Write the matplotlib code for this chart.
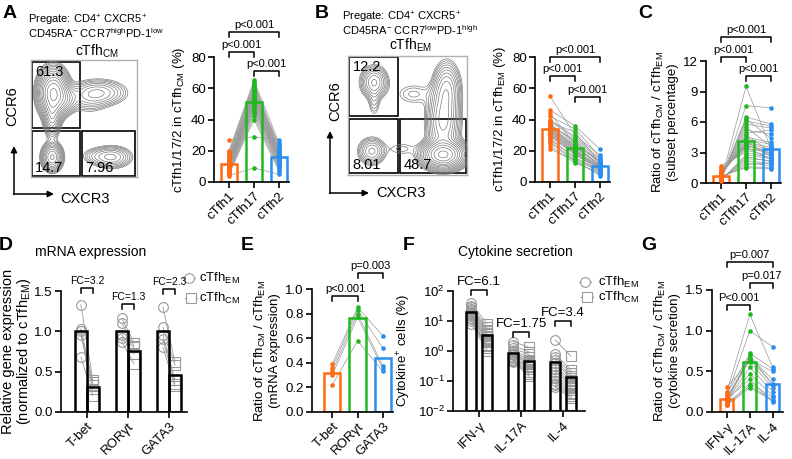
import numpy as np
import matplotlib
matplotlib.use('Agg')
import matplotlib.pyplot as plt
from matplotlib.patches import Rectangle

plt.rcParams['font.family'] = ['Liberation Sans', 'DejaVu Sans']
plt.rcParams['mathtext.fontset'] = 'custom'
plt.rcParams['mathtext.rm'] = 'Liberation Sans'
plt.rcParams['mathtext.default'] = 'regular'

# ---------------- data ----------------
subsets = ['cTfh1', 'cTfh17', 'cTfh2']
genes = ['T-bet', 'RORγt', 'GATA3']
cytokines = ['IFN-γ', 'IL-17A', 'IL-4']

# A: subset percentage in cTfh_CM (one value per donor)
cm_tfh1 = [20, 19, 18, 17, 16, 15, 15, 14, 14, 13, 13, 12, 12, 11, 11, 10, 10, 10, 9, 9, 8, 8, 7, 7, 6, 6, 5, 5, 27, 4]
cm_tfh17 = [65, 64, 63, 62, 61, 60, 59, 58, 57, 57, 56, 55, 55, 54, 53, 53, 52, 51, 50, 50, 49, 48, 47, 46, 45, 44, 42, 40, 29, 9]
cm_tfh2 = [25, 18, 23, 16, 21, 20, 14, 19, 24, 13, 17, 22, 16, 15, 20, 12, 14, 18, 13, 10, 12, 17, 11, 15, 10, 9, 8, 7, 27, 5]

# B: subset percentage in cTfh_EM
em_tfh1 = [55, 46, 44, 42, 40, 39, 38, 37, 37, 36, 36, 35, 35, 34, 34, 33, 33, 32, 32, 31, 31, 30, 30, 29, 28, 27, 26, 25, 23, 21]
em_tfh17 = [30, 36, 24, 34, 29, 28, 32, 26, 25, 23, 27, 24, 22, 23, 21, 22, 20, 21, 19, 20, 18, 19, 17, 18, 15, 16, 14, 13, 12, 14]
em_tfh2 = [17, 21, 13, 16, 15, 14, 12, 13, 12, 11, 12, 10, 11, 10, 9, 11, 10, 9, 10, 8, 9, 8, 9, 7, 8, 6, 7, 5, 6, 4]

# C: ratio CM / EM of subset percentage
ratio_tfh1 = [0.2, 0.25, 0.3, 0.35, 0.4, 0.45, 0.5, 0.55, 0.6, 0.65, 0.7, 0.75, 0.8, 0.85, 0.9, 0.95, 1.0, 1.1, 1.2, 1.3, 1.5, 1.7, 0.25, 0.3, 0.35, 0.4, 0.45, 0.5, 0.6, 0.7]
ratio_tfh17 = [9.5, 7.6, 6.5, 6.3, 6.1, 5.8, 5.5, 5.2, 4.9, 4.7, 4.5, 4.3, 4.1, 4.0, 3.9, 3.8, 3.7, 3.6, 3.5, 3.4, 3.2, 3.0, 2.8, 2.6, 2.4, 2.2, 2.0, 1.8, 1.6, 1.5]
ratio_tfh2 = [3.4, 7.4, 5.8, 4.4, 5.6, 5.4, 3.6, 4.8, 5.2, 3.1, 4.0, 3.8, 2.6, 3.5, 3.3, 2.9, 2.8, 3.2, 2.3, 3.0, 2.7, 2.5, 2.4, 2.1, 2.2, 1.9, 1.7, 2.0, 1.5, 1.4]

# D: relative mRNA expression (normalized to cTfh_EM)
mrna_em = {'T-bet': [1.33, 1.03, 1.00, 0.95, 0.68],
           'RORγt': [1.16, 1.10, 0.95, 0.92, 0.87],
           'GATA3': [1.30, 1.05, 0.95, 0.90, 0.80]}
mrna_cm = {'T-bet': [0.40, 0.37, 0.33, 0.28, 0.20],
           'RORγt': [0.86, 0.82, 0.80, 0.72, 0.60],
           'GATA3': [0.62, 0.58, 0.40, 0.35, 0.32]}
mrna_fc = ['FC=3.2', 'FC=1.3', 'FC=2.3']

# E: ratio CM / EM of mRNA expression
mrna_ratio_tbet = [0.39, 0.36, 0.33, 0.30, 0.22]
mrna_ratio_rorgt = [0.85, 0.83, 0.80, 0.77, 0.58]
mrna_ratio_gata3 = [0.62, 0.52, 0.37, 0.35, 0.33]

# F: cytokine+ cells (%)
cyto_em = {'IFN-γ': [38, 32, 28, 25, 22, 20, 18, 17, 15, 14, 12, 11, 10, 8],
           'IL-17A': [2.0, 1.5, 1.2, 1.0, 0.9, 0.8, 0.75, 0.7, 0.6, 0.55, 0.5, 0.48, 0.45, 0.43],
           'IL-4': [2.3, 0.8, 0.6, 0.5, 0.4, 0.3, 0.25, 0.2, 0.15, 0.12, 0.1, 0.08, 0.07, 0.06]}
cyto_cm = {'IFN-γ': [8, 6, 5, 4.5, 4, 3.5, 3, 2.5, 2.2, 2, 1.6, 1.4, 1.2, 1.0],
           'IL-17A': [1.3, 0.9, 0.75, 0.6, 0.5, 0.45, 0.4, 0.35, 0.3, 0.28, 0.25, 0.2, 0.17, 0.14],
           'IL-4': [0.65, 0.22, 0.18, 0.14, 0.12, 0.1, 0.08, 0.07, 0.06, 0.05, 0.04, 0.035, 0.03, 0.026]}
cyto_fc = ['FC=6.1', 'FC=1.75', 'FC=3.4']

# G: ratio CM / EM of cytokine secretion
cyto_ratio_ifng = [0.31, 0.25, 0.22, 0.20, 0.18, 0.17, 0.16, 0.15, 0.14, 0.13, 0.12, 0.10, 0.09, 0.08]
cyto_ratio_il17a = [0.62, 1.2, 0.72, 1.0, 0.67, 0.65, 0.4, 0.64, 0.55, 0.47, 0.70, 0.35, 0.32, 0.30]
cyto_ratio_il4 = [0.30, 0.55, 0.53, 0.8, 0.40, 0.35, 0.12, 0.50, 0.25, 0.20, 0.33, 0.18, 0.15, 0.14]

# flow cytometry density components (axes fraction: x = CXCR3, y = CCR6)
cm_cx = [0.21, 0.20, 0.20, 0.64, 0.76, 0.55, 0.32, 0.60]
cm_cy = [0.72, 0.52, 0.17, 0.72, 0.17, 0.66, 0.66, 0.18]
cm_sx = [0.07, 0.04, 0.05, 0.14, 0.10, 0.10, 0.07, 0.08]
cm_sy = [0.10, 0.09, 0.06, 0.06, 0.05, 0.07, 0.06, 0.04]
cm_w = [1.0, 0.35, 0.45, 0.18, 0.2, 0.06, 0.18, 0.05]
cm_gates = ['61.3', '14.7', '7.96']

em_cx = [0.22, 0.22, 0.20, 0.80, 0.80, 0.83, 0.55, 0.45]
em_cy = [0.78, 0.62, 0.20, 0.17, 0.45, 0.72, 0.68, 0.22]
em_sx = [0.06, 0.03, 0.06, 0.09, 0.07, 0.06, 0.10, 0.08]
em_sy = [0.07, 0.08, 0.06, 0.06, 0.15, 0.12, 0.06, 0.04]
em_w = [0.25, 0.06, 0.2, 1.0, 0.35, 0.25, 0.05, 0.04]
em_gates = ['12.2', '8.01', '48.7']

colors = ['#ff6a13', '#1fb81f', '#2a8ff0']
gray = '#9a9a9a'
TICK_FS = 9.5
LAB_FS = 9.5

W, H = 792, 459
fig = plt.figure(figsize=(W / 100, H / 100), dpi=100)

# overlay in pixel coordinates for annotations, drawn on top of everything
ov = fig.add_axes([0, 0, 1, 1])
ov.set_xlim(0, W)
ov.set_ylim(H, 0)
ov.axis('off')
ov.set_zorder(10)


def ax_px(x0, y0, x1, y1):
    ax = fig.add_axes([x0 / W, 1 - y1 / H, (x1 - x0) / W, (y1 - y0) / H])
    ax.patch.set_alpha(0)
    return ax


def style(ax):
    for s in ['top', 'right']:
        ax.spines[s].set_visible(False)
    for s in ['left', 'bottom']:
        ax.spines[s].set_linewidth(1.2)
    ax.tick_params(width=1.2, length=4, labelsize=TICK_FS, pad=2)


def to_px(ax, x):
    return ax.transData.transform((x, ax.get_ylim()[0] if ax.get_yscale() == 'log' else 0))[0]


def bracket(ax, i, j, y, label, fs=8, drop=5):
    x1, x2 = to_px(ax, i), to_px(ax, j)
    ov.plot([x1, x1, x2, x2], [y + drop, y, y, y + drop], color='k', lw=1.1)
    ov.text((x1 + x2) / 2, y - 2, label, ha='center', va='bottom', fontsize=fs)


def paired_bars(ax, groups, width, xlim, ylim, yticks, labels, ylabel):
    x = np.arange(len(groups))
    for i in range(len(groups[0])):
        ax.plot(x, [g[i] for g in groups], color=gray, lw=0.5, zorder=1)
    for k, g in enumerate(groups):
        ax.bar(k, np.mean(g), width, facecolor='none', edgecolor=colors[k], lw=1.8, zorder=2)
        ax.scatter(np.full(len(g), k), g, s=11, color=colors[k], zorder=3, lw=0)
    ax.set_xlim(*xlim)
    ax.set_ylim(*ylim)
    ax.set_yticks(yticks)
    ax.set_xticks(x)
    ax.set_xticklabels(labels, rotation=45, ha='right', rotation_mode='anchor')
    ax.set_ylabel(ylabel, fontsize=LAB_FS, labelpad=3, linespacing=1.1)
    style(ax)


def em_cm_bars(ax, keys, em, cm, off, width, xlim, ylim, log=False):
    x = np.arange(len(keys))
    for k, key in enumerate(keys):
        for a, b in zip(em[key], cm[key]):
            ax.plot([k - off, k + off], [a, b], color=gray, lw=0.6, zorder=1)
        bottom = ylim[0] if log else 0
        ax.bar(k - off, np.mean(em[key]) - bottom, width, bottom=bottom, facecolor='none', edgecolor='k', lw=1.8, zorder=3)
        ax.bar(k + off, np.mean(cm[key]) - bottom, width, bottom=bottom, facecolor='none', edgecolor='k', lw=1.8, zorder=3)
        ax.plot(np.full(len(em[key]), k - off), em[key], 'o', ms=7, mfc='none', mec=gray, mew=0.8, zorder=2)
        ax.plot(np.full(len(cm[key]), k + off), cm[key], 's', ms=7, mfc='none', mec=gray, mew=0.8, zorder=2)
    if log:
        ax.set_yscale('log')
    ax.set_xlim(*xlim)
    ax.set_ylim(*ylim)
    ax.set_xticks(x)
    ax.set_xticklabels(keys, rotation=45, ha='right', rotation_mode='anchor')
    style(ax)


def flow(ax, cx, cy, sx, sy, w):
    g = np.linspace(0, 1, 220)
    gx, gy = np.meshgrid(g, g)
    z = np.zeros_like(gx)
    for a, b, c, d, e in zip(cx, cy, sx, sy, w):
        z += e * np.exp(-0.5 * (((gx - a) / c) ** 2 + ((gy - b) / d) ** 2))
    ax.contour(gx, gy, z, levels=z.max() * np.geomspace(0.025, 0.9, 14), colors='#7a7a7a', linewidths=0.5)
    ax.set_xlim(0, 1)
    ax.set_ylim(0, 1)
    ax.set_xticks([])
    ax.set_yticks([])
    for s in ax.spines.values():
        s.set_color('#b0b0b0')
        s.set_linewidth(1.0)


def axis_arrows(x0, y0, top, right):
    style_kw = dict(arrowstyle='-|>', color='k', lw=1.1, mutation_scale=9, shrinkA=0, shrinkB=0)
    ov.annotate('', xy=(x0, top), xytext=(x0, y0 + 0.5), arrowprops=style_kw)
    ov.annotate('', xy=(right, y0), xytext=(x0 - 0.5, y0), arrowprops=style_kw)


# ---------------- A ----------------
fa = ax_px(31, 60, 137, 177)
flow(fa, cm_cx, cm_cy, cm_sx, cm_sy, cm_w)
for (x0, y0, x1, y1) in [(0.01, 0.42, 0.46, 0.98), (0.01, 0.01, 0.46, 0.39), (0.48, 0.01, 0.98, 0.39)]:
    fa.add_patch(Rectangle((x0, y0), x1 - x0, y1 - y0, fill=False, ec='k', lw=1.2))
fa.text(0.04, 0.96, cm_gates[0], va='top', fontsize=10.5)
fa.text(0.04, 0.02, cm_gates[1], va='bottom', fontsize=10.5)
fa.text(0.51, 0.02, cm_gates[2], va='bottom', fontsize=10.5)

ov.text(28, 20, 'Pregate: CD4$^{+}$ CXCR5$^{+}$', fontsize=8, va='center')
ov.text(28, 33, 'CD45RA$^{-}$ CCR7$^{high}$PD-1$^{low}$', fontsize=8, va='center')
ov.text(97, 51, 'cTfh$_{CM}$', fontsize=10, ha='center', va='center')
axis_arrows(14, 194, 146, 54)
ov.text(12, 106, 'CCR6', rotation=90, ha='center', va='center', fontsize=10.5)
ov.text(85, 199, 'CXCR3', ha='center', va='center', fontsize=10.5)

ba = ax_px(214, 57, 289, 182)
paired_bars(ba, [cm_tfh1, cm_tfh17, cm_tfh2], 0.64, (-0.6, 2.4), (0, 80), [0, 20, 40, 60, 80], subsets,
            'cTfh1/17/2 in cTfh$_{CM}$ (%)')
bracket(ba, 0, 2, 32, 'p<0.001')
bracket(ba, 0, 1, 52, 'p<0.001')
bracket(ba, 1, 2, 71, 'p<0.001')

# ---------------- B ----------------
fb = ax_px(348, 56, 467, 175)
flow(fb, em_cx, em_cy, em_sx, em_sy, em_w)
for (x0, y0, x1, y1) in [(0.01, 0.50, 0.42, 0.99), (0.01, 0.015, 0.42, 0.47), (0.44, 0.015, 0.99, 0.47)]:
    fb.add_patch(Rectangle((x0, y0), x1 - x0, y1 - y0, fill=False, ec='k', lw=1.2))
fb.text(0.04, 0.97, em_gates[0], va='top', fontsize=10.5)
fb.text(0.04, 0.025, em_gates[1], va='bottom', fontsize=10.5)
fb.text(0.47, 0.025, em_gates[2], va='bottom', fontsize=10.5)

ov.text(342, 17, 'Pregate: CD4$^{+}$ CXCR5$^{+}$', fontsize=8, va='center')
ov.text(342, 30, 'CD45RA$^{-}$ CCR7$^{low}$PD-1$^{high}$', fontsize=8, va='center')
ov.text(410, 45, 'cTfh$_{EM}$', fontsize=10, ha='center', va='center')
axis_arrows(330, 193, 131, 369)
ov.text(335, 101, 'CCR6', rotation=90, ha='center', va='center', fontsize=10.5)
ov.text(401, 193, 'CXCR3', ha='center', va='center', fontsize=10.5)

bb = ax_px(535, 57, 610, 182)
paired_bars(bb, [em_tfh1, em_tfh17, em_tfh2], 0.64, (-0.6, 2.4), (0, 80), [0, 20, 40, 60, 80], subsets,
            'cTfh1/17/2 in cTfh$_{EM}$ (%)')
bracket(bb, 0, 2, 57, 'p<0.001')
bracket(bb, 0, 1, 76, 'p<0.001')
bracket(bb, 1, 2, 97, 'p<0.001')

# ---------------- C ----------------
bc = ax_px(706, 61, 781, 183)
paired_bars(bc, [ratio_tfh1, ratio_tfh17, ratio_tfh2], 0.64, (-0.6, 2.4), (0, 12), [0, 3, 6, 9, 12], subsets,
            'Ratio of cTfh$_{CM}$ / cTfh$_{EM}$\n(subset percentage)')
bracket(bc, 0, 2, 37, 'p<0.001')
bracket(bc, 0, 1, 57, 'p<0.001')
bracket(bc, 1, 2, 76, 'p<0.001')

# ---------------- D ----------------
bd = ax_px(61, 291, 187, 412)
em_cm_bars(bd, genes, mrna_em, mrna_cm, 0.145, 0.29, (-0.63, 2.44), (0, 1.5))
bd.set_yticks([0, 0.5, 1.0, 1.5])
bd.set_yticklabels(['0.0', '0.5', '1.0', '1.5'])
bd.set_ylabel('Relative gene expression\n(normalized to cTfh$_{EM}$)', fontsize=10.5, labelpad=1, linespacing=1.0)
for k, (yb, lab) in enumerate(zip([288, 304, 289], mrna_fc)):
    bracket(bd, k - 0.145, k + 0.145, yb, lab, fs=7.5)
ov.text(91, 252, 'mRNA expression', ha='center', va='center', fontsize=10)
ov.plot([183, 195], [278, 278], color=gray, lw=0.8)
ov.plot([189], [278], 'o', ms=7, mfc='white', mec=gray, mew=0.8)
ov.plot([185, 197], [298, 298], color=gray, lw=0.8)
ov.plot([191], [298], 's', ms=7, mfc='white', mec=gray, mew=0.8)
ov.text(199, 278, 'cTfh$_{EM}$', va='center', fontsize=9.5)
ov.text(199, 298, 'cTfh$_{CM}$', va='center', fontsize=9.5)

# ---------------- E ----------------
be = ax_px(312, 289, 393, 412)
paired_bars(be, [mrna_ratio_tbet, mrna_ratio_rorgt, mrna_ratio_gata3], 0.65, (-0.8, 2.4), (0, 1.0),
            [0, 0.2, 0.4, 0.6, 0.8, 1.0], genes, 'Ratio of cTfh$_{CM}$ / cTfh$_{EM}$\n(mRNA expression)')
be.set_yticklabels(['0.0', '0.2', '0.4', '0.6', '0.8', '1.0'])
bracket(be, 0, 1, 296, 'p<0.001')
bracket(be, 1, 2, 273, 'p=0.003')

# ---------------- F ----------------
bf = ax_px(453, 290.7, 585, 410.7)
em_cm_bars(bf, cytokines, cyto_em, cyto_cm, 0.19, 0.24, (-0.62, 2.52), (0.01, 100), log=True)
bf.set_yticks([0.01, 0.1, 1, 10, 100])
bf.minorticks_off()
bf.set_ylabel('Cytokine$^{+}$ cells (%)', fontsize=LAB_FS, labelpad=3)
for k, (yb, lab) in enumerate(zip([290, 332, 321], cyto_fc)):
    bracket(bf, k - 0.19, k + 0.19, yb, lab, fs=9.5)
ov.text(515, 252, 'Cytokine secretion', ha='center', va='center', fontsize=10)
ov.plot([579, 591], [282, 282], color=gray, lw=0.8)
ov.plot([585], [282], 'o', ms=7, mfc='white', mec=gray, mew=0.8)
ov.plot([581, 593], [297, 297], color=gray, lw=0.8)
ov.plot([587], [297], 's', ms=7, mfc='white', mec=gray, mew=0.8)
ov.text(598, 282, 'cTfh$_{EM}$', va='center', fontsize=9.5)
ov.text(598, 297, 'cTfh$_{CM}$', va='center', fontsize=9.5)

# ---------------- G ----------------
bg = ax_px(712, 290, 783, 412)
paired_bars(bg, [cyto_ratio_ifng, cyto_ratio_il17a, cyto_ratio_il4], 0.57, (-0.65, 2.45), (0, 1.5),
            [0, 0.5, 1.0, 1.5], cytokines, 'Ratio of cTfh$_{CM}$ / cTfh$_{EM}$\n(cytokine secretion)')
bg.set_yticklabels(['0.0', '0.5', '1.0', '1.5'])
bracket(bg, 0, 1, 305, 'P<0.001')
bracket(bg, 0, 2, 262, 'p=0.007')
bracket(bg, 1, 2, 283, 'p=0.017')

# panel letters
for lab, (x, y) in zip('ABCDEFG', [(10, 14), (322, 14), (645, 14), (6, 245), (247, 245), (409, 245), (649, 245)]):
    ov.text(x, y, lab, fontsize=14, fontweight='bold', ha='center', va='center')

fig.savefig('out.png', dpi=100)
